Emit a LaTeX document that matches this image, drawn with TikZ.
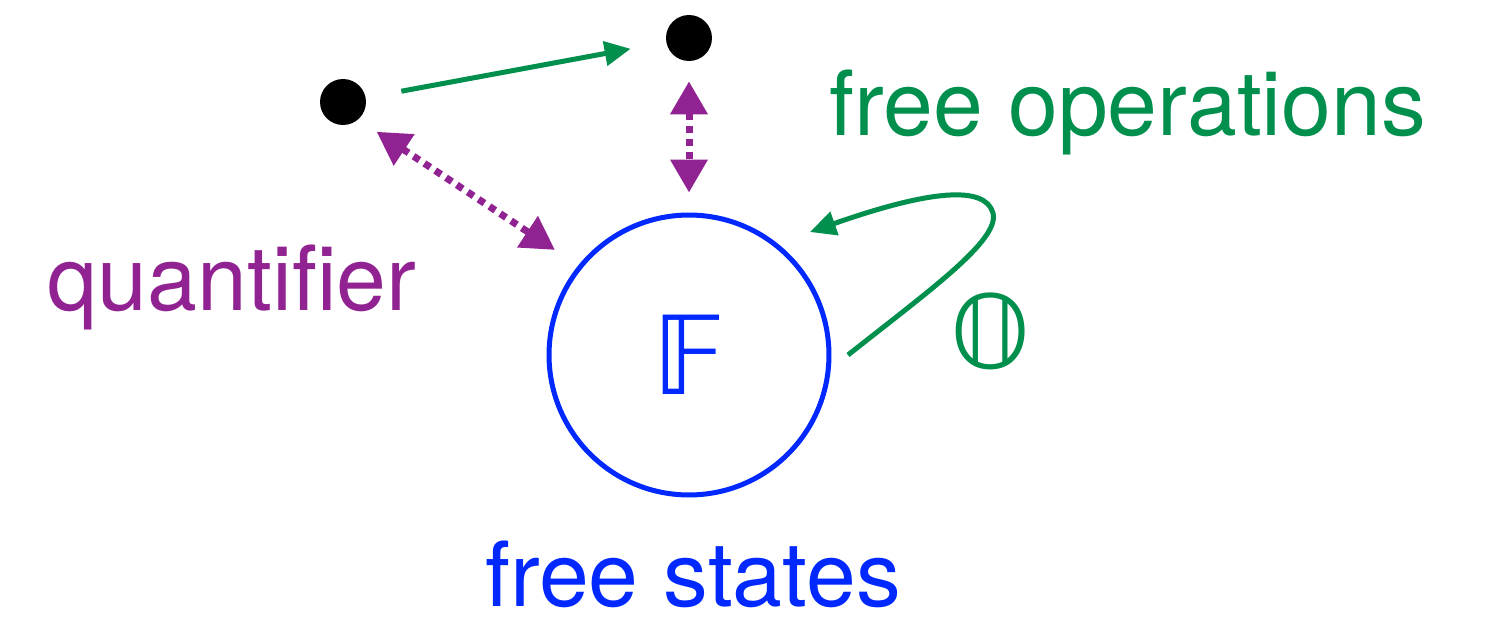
\documentclass[tikz,border=0pt]{standalone}
\usepackage{fontspec}
\setmainfont{TeX Gyre Heros}
\newfontfamily\dsfont{DejaVu Sans}
\usetikzlibrary{arrows.meta}

\definecolor{opgreen}{RGB}{0,143,76}
\definecolor{qpurple}{RGB}{145,34,145}
\definecolor{fsblue}{RGB}{0,40,255}

\begin{document}
\begin{tikzpicture}[x=0.02cm, y=-0.02cm,
    every node/.style={font=\fontsize{51}{60}\selectfont},
    statedot/.style={circle, fill=black, minimum size=0.92cm, inner sep=0pt},
    gop/.style={opgreen, line width=0.1cm, -{Triangle[length=0.52cm, width=0.48cm]}},
    qarr/.style={qpurple, line width=0.14cm, dash pattern=on 0.14cm off 0.12cm,
        {Triangle[length=0.66cm, width=0.72cm]}-{Triangle[length=0.66cm, width=0.72cm]}}]

    \useasboundingbox (0,0) rectangle (1492,619);

    % States
    \node[statedot] (sa) at (343,102) {};
    \node[statedot] (sb) at (689,38) {};

    % Set of free states
    \node[circle, draw=fsblue, line width=0.1cm, minimum size=5.6cm, inner sep=0pt,
        text=fsblue] (fs) at (689,355) {\fontsize{62}{70}\selectfont\dsfont 𝔽};

    % Labels
    \node[anchor=base, inner sep=0pt, text=opgreen] (lop) at (1128,135) {free operations};
    \node[anchor=base, inner sep=0pt, text=qpurple] (lq) at (232,310) {quantifier};
    \node[anchor=base, inner sep=0pt, text=fsblue] (lfs) at (693,606) {free states};
    \node[text=opgreen] (lo) at (991,331) {\fontsize{58}{66}\selectfont\dsfont 𝕆};

    % Free operation between states
    \draw[gop, shorten <=0.72cm, shorten >=0.72cm] (sa) -- (sb);

    % Quantifier arrows
    \draw[qarr, shorten <=0.4cm, shorten >=0.4cm] (sb) -- (fs);
    \draw[qarr, shorten <=0.44cm, shorten >=0.56cm] (sa.-49) -- (fs.141);

    % Free operations map free states to free states
    \coordinate (lpa) at (848,355);
    \coordinate (lpb) at (993,213);
    \coordinate (lpc) at (810,232);
    \draw[gop] (lpa) .. controls (930,290) and (1000,240) .. (lpb)
        .. controls (985,185) and (930,190) .. (lpc);

\end{tikzpicture}
\end{document}
